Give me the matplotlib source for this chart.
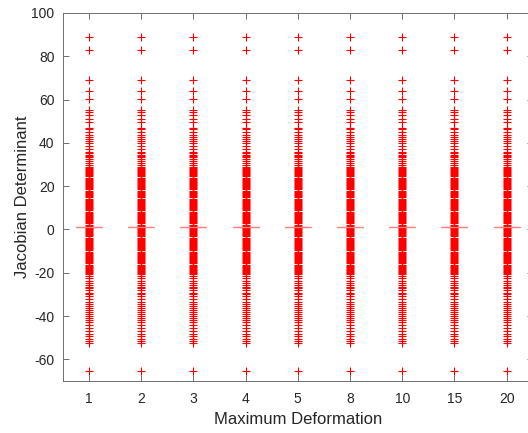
import matplotlib
matplotlib.use('Agg')
import matplotlib.pyplot as plt

# Categorias del eje x
deformacion = ['1', '2', '3', '4', '5', '8', '10', '15', '20']
mediana = 1.0

# Valores atipicos (iguales en todas las columnas)
atipicos_altos = [89.0, 82.8, 69.2, 64.0, 60.5, 55.3, 54.3, 52.8, 51.0, 49.7,
                  46.9, 46.3, 45.0, 43.8, 42.6, 41.7, 40.7, 39.8, 38.5, 37.3,
                  35.8, 35.2, 34.5, 33.9, 33.3, 32.7, 31.7, 30.5, 29.6]
banda_densa = [29.0, 28.5, 28.0, 27.5, 27.0, 26.5, 26.0, 25.5, 25.0, 24.5,
               24.0, 23.5, 23.0, 22.5, 22.0, 21.6, 20.8, 20.4, 20.0, 19.5,
               19.0, 18.6, 17.6, 17.2, 16.8, 16.3, 15.8, 15.3, 14.8, 14.3,
               13.8, 13.3, 12.8, 12.3, 11.8, 11.3, 10.8, 10.3, 9.8, 9.3,
               8.8, 8.3, 7.8, 7.3, 6.8, 6.3, 5.8, 5.3, 4.8, 4.3,
               3.8, 3.3, 2.8, 2.3, 1.8, 1.3, 0.8, 0.3, -0.2, -0.7,
               -1.2, -1.7, -2.2, -2.7, -3.2, -3.7, -4.2, -4.7, -5.2, -5.7,
               -6.2, -6.7, -7.2, -7.7, -8.2, -8.7, -9.2, -9.7, -10.2, -10.7,
               -11.2, -11.7, -12.2, -12.7, -13.2, -13.7, -14.2, -14.7, -15.2, -15.7,
               -16.2, -16.7, -17.2, -17.7, -18.2, -18.7, -19.2, -19.7, -20.2, -20.6]
atipicos_bajos = [-21.5, -22.5, -23.7, -24.6, -25.5, -26.5, -27.1, -28.0, -29.3, -29.9,
                  -30.8, -32.0, -33.3, -34.2, -35.2, -36.1, -37.0, -37.9, -39.2, -40.1,
                  -41.0, -42.0, -42.9, -44.1, -45.4, -46.9, -48.2, -49.4, -50.6, -51.6,
                  -52.3, -65.5]

atipicos = atipicos_altos + banda_densa + atipicos_bajos

stats = [dict(med=mediana, q1=mediana, q3=mediana, whislo=mediana, whishi=mediana,
              fliers=atipicos, label=d) for d in deformacion]

plt.rcParams['font.family'] = ['Liberation Sans', 'DejaVu Sans']
plt.rcParams['axes.unicode_minus'] = False

fig = plt.figure(figsize=(5.28, 4.33), dpi=100)
ax = fig.add_axes([0.119, 0.12, 0.89, 0.85])

ax.bxp(stats, positions=range(1, len(deformacion) + 1), widths=0.5,
       showcaps=False,
       boxprops=dict(color='#ff8c8c', linewidth=0.8),
       whiskerprops=dict(linewidth=0),
       medianprops=dict(color='#ff8080', linewidth=0.9),
       flierprops=dict(marker='+', markeredgecolor='#ff0000', markerfacecolor='#ff0000',
                       markersize=6, markeredgewidth=0.8, linestyle='none'))

ax.set_xlim(0.5, 9.5)
ax.set_ylim(-70, 100)
ax.set_yticks(range(-60, 101, 20))

for s in ax.spines.values():
    s.set_color('#6e6e6e')
    s.set_linewidth(0.7)
ax.tick_params(direction='in', top=True, right=True, length=4, width=0.7,
               color='#6e6e6e', labelcolor='#262626', labelsize=10)
ax.tick_params(axis='x', pad=8)
ax.tick_params(axis='y', pad=6)

ax.set_xlabel('Maximum Deformation', fontsize=12, color='#262626', labelpad=4)
ax.set_ylabel('Jacobian Determinant', fontsize=12, color='#262626', labelpad=1)

fig.savefig('out.png', dpi=100)
